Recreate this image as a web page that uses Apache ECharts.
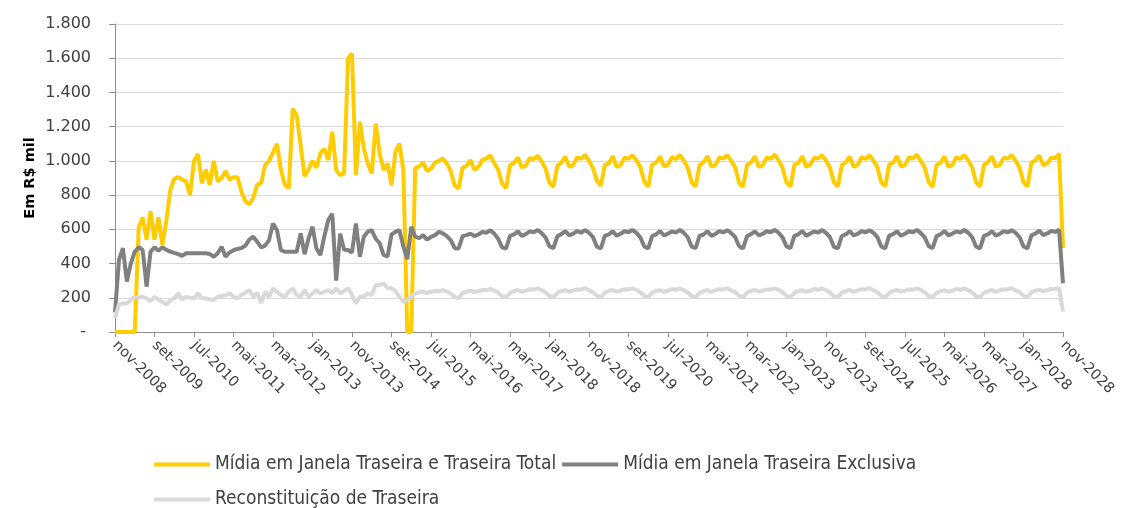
<!DOCTYPE html>
<html>
<head>
<meta charset="utf-8">
<script src="https://cdn.jsdelivr.net/npm/echarts@6/dist/echarts.min.js"></script>
<style>
html,body{margin:0;padding:0;background:#fff;}
#chart{width:1123px;height:508px;}
</style>
</head>
<body>
<div id="chart"></div>
<script>
// Month abbreviations (Portuguese) used for category labels
var monthNames = ['jan','fev','mar','abr','mai','jun','jul','ago','set','out','nov','dez'];
var startYear = 2008, startMonth = 10; // nov-2008
var nMonths = 241;                     // nov-2008 .. nov-2028
var categories = [];
for (var k = 0; k < nMonths; k++) {
  var m = (startMonth + k) % 12;
  var y = startYear + Math.floor((startMonth + k) / 12);
  categories.push(monthNames[m] + '-' + y);
}

var seriesNames = [
  'Mídia em Janela Traseira e Traseira Total',
  'Mídia em Janela Traseira Exclusiva',
  'Reconstituição de Traseira'
];

// Mídia em Janela Traseira e Traseira Total
var midiaTotal = [
  0,0,0,0,0,0,
  610,670,540,705,540,670,510,650,830,895,905,890,880,800,
  1000,1040,870,950,860,1000,880,900,940,890,905,905,820,765,745,785,860,870,975,1000,
  1050,1100,950,860,840,1305,1265,1090,910,950,1000,960,1045,1070,1005,1170,946,917,926,1598,
  1627,917,1228,1072,985,926,1218,1043,946,985,858,1053,1101,946,0,0,
  958,968,990,940,955,990,1000,1015,985,940,855,840,
  960,970,1005,948,965,1005,1015,1032,988,948,868,840,
  975,988,1020,962,972,1018,1010,1030,998,955,870,848,
  972,990,1025,965,975,1020,1012,1035,1000,958,885,855,
  975,985,1027,965,975,1018,1012,1033,1004,965,878,848,
  978,990,1025,968,978,1022,1010,1035,1002,960,875,850,
  975,992,1028,966,976,1020,1014,1034,1000,962,872,848,
  976,990,1026,964,975,1021,1012,1036,1003,960,874,850,
  977,988,1027,966,977,1019,1013,1035,1001,961,876,849,
  975,991,1025,965,976,1022,1011,1034,1002,963,873,851,
  978,989,1028,967,975,1020,1014,1036,1000,960,875,848,
  976,990,1026,965,977,1021,1012,1035,1003,962,874,850,
  977,992,1027,966,976,1019,1013,1034,1001,961,876,849,
  990,1002,1032,975,985,1018,1015,1042,
  490
];

// Mídia em Janela Traseira Exclusiva
var midiaExclusiva = [
  115,420,490,295,400,470,495,480,265,470,495,475,495,480,470,462,455,445,460,460,
  460,460,460,460,455,440,460,498,440,465,478,485,490,505,540,557,527,495,505,537,
  634,595,479,469,469,469,469,576,455,547,615,488,450,560,655,690,300,575,480,479,
  465,634,440,557,586,595,545,520,450,440,570,585,595,500,425,615,
  558,548,566,540,555,566,586,576,560,537,490,488,
  560,566,575,560,570,585,580,595,575,545,495,488,
  562,570,588,562,572,588,582,596,578,552,500,490,
  560,572,590,565,575,590,580,595,580,555,498,488,
  562,570,588,563,574,589,583,597,579,553,500,489,
  561,571,590,564,575,588,581,596,580,554,499,490,
  563,570,589,562,573,590,582,595,578,555,501,488,
  560,572,588,565,574,589,583,597,580,553,500,490,
  562,571,590,563,575,588,581,596,579,554,498,489,
  561,570,589,564,573,590,582,595,580,555,500,488,
  563,572,588,562,574,589,583,597,578,553,501,490,
  560,571,590,565,575,588,581,596,580,554,499,489,
  562,570,589,563,573,590,582,595,579,555,500,488,
  565,575,592,566,576,590,585,598,
  285
];

// Reconstituição de Traseira
var reconstituicao = [
  80,160,167,167,187,206,200,206,197,180,205,190,175,160,185,197,226,190,205,200,
  197,226,197,197,190,187,206,210,215,226,206,197,216,230,245,206,230,170,235,206,
  255,235,216,206,235,255,216,206,245,206,226,245,225,235,245,226,255,226,240,255,
  216,167,206,206,226,216,274,274,284,255,255,240,206,177,187,206,
  226,232,236,228,235,240,238,245,236,225,205,196,
  228,236,242,232,238,246,244,252,242,230,208,202,
  228,240,245,235,242,250,248,255,245,232,210,203,
  229,239,246,234,243,249,247,256,244,233,211,204,
  228,241,245,236,242,250,248,255,246,232,210,203,
  230,240,244,235,241,251,247,254,245,231,209,204,
  228,239,246,234,243,250,249,256,244,233,211,203,
  229,241,245,236,242,249,248,255,246,232,210,204,
  228,240,244,235,241,251,247,254,245,231,209,203,
  230,239,246,234,243,250,249,256,244,233,211,204,
  228,241,245,236,242,249,248,255,246,232,210,203,
  229,240,244,235,241,251,247,254,245,231,209,204,
  228,239,246,234,243,250,249,256,244,233,211,203,
  232,242,247,238,244,252,250,257,
  120
];

var colors = ['#FFCC00', '#808080', '#D9D9D9'];

function fmtY(v) {
  if (v === 0) return '- ';
  return String(v).replace(/\B(?=(\d{3})+(?!\d))/g, '.');
}

var chart = echarts.init(document.getElementById('chart'), null, {renderer: 'canvas'});
var legendText = {color: '#404040', fontSize: 19, fontFamily: 'DejaVu Sans Condensed'};
chart.setOption({
  animation: false,
  backgroundColor: '#ffffff',
  grid: {left: 115, right: 60, top: 24, bottom: 176, containLabel: false},
  legend: [
    {data: [seriesNames[0], seriesNames[1]], left: 149, top: 450, icon: 'rect',
     itemWidth: 56, itemHeight: 4, itemGap: 6, textStyle: legendText},
    {data: [seriesNames[2]], left: 149, top: 485, icon: 'rect',
     itemWidth: 56, itemHeight: 4, itemGap: 6, textStyle: legendText}
  ],
  xAxis: {
    type: 'category',
    data: categories,
    boundaryGap: false,
    axisLine: {lineStyle: {color: '#8C8C8C', width: 1}},
    axisTick: {show: true, interval: 9, length: 5, lineStyle: {color: '#8C8C8C'}},
    axisLabel: {interval: 9, rotate: -45, margin: 11, color: '#404040',
                fontSize: 14.5, fontFamily: 'DejaVu Sans'},
    splitLine: {show: false}
  },
  yAxis: {
    type: 'value',
    min: 0, max: 1800, interval: 200,
    name: 'Em R$ mil',
    nameLocation: 'middle',
    nameGap: 77,
    nameMoveOverlap: false,
    nameRotate: 90,
    nameTextStyle: {color: '#000', fontSize: 14.5, fontWeight: 'bold', fontFamily: 'DejaVu Sans'},
    axisLine: {show: true, lineStyle: {color: '#8C8C8C', width: 1}},
    axisTick: {show: true, length: 6, lineStyle: {color: '#8C8C8C'}},
    axisLabel: {formatter: fmtY, margin: 24, color: '#404040', fontSize: 16, fontFamily: 'DejaVu Sans'},
    splitLine: {show: true, lineStyle: {color: '#D9D9D9', width: 1}}
  },
  series: [
    {name: seriesNames[0], type: 'line', data: midiaTotal, symbol: 'none', showSymbol: false,
     lineStyle: {color: colors[0], width: 4}, itemStyle: {color: colors[0]}},
    {name: seriesNames[1], type: 'line', data: midiaExclusiva, symbol: 'none', showSymbol: false,
     lineStyle: {color: colors[1], width: 4}, itemStyle: {color: colors[1]}},
    {name: seriesNames[2], type: 'line', data: reconstituicao, symbol: 'none', showSymbol: false,
     lineStyle: {color: colors[2], width: 4}, itemStyle: {color: colors[2]}}
  ]
});
</script>
</body>
</html>
